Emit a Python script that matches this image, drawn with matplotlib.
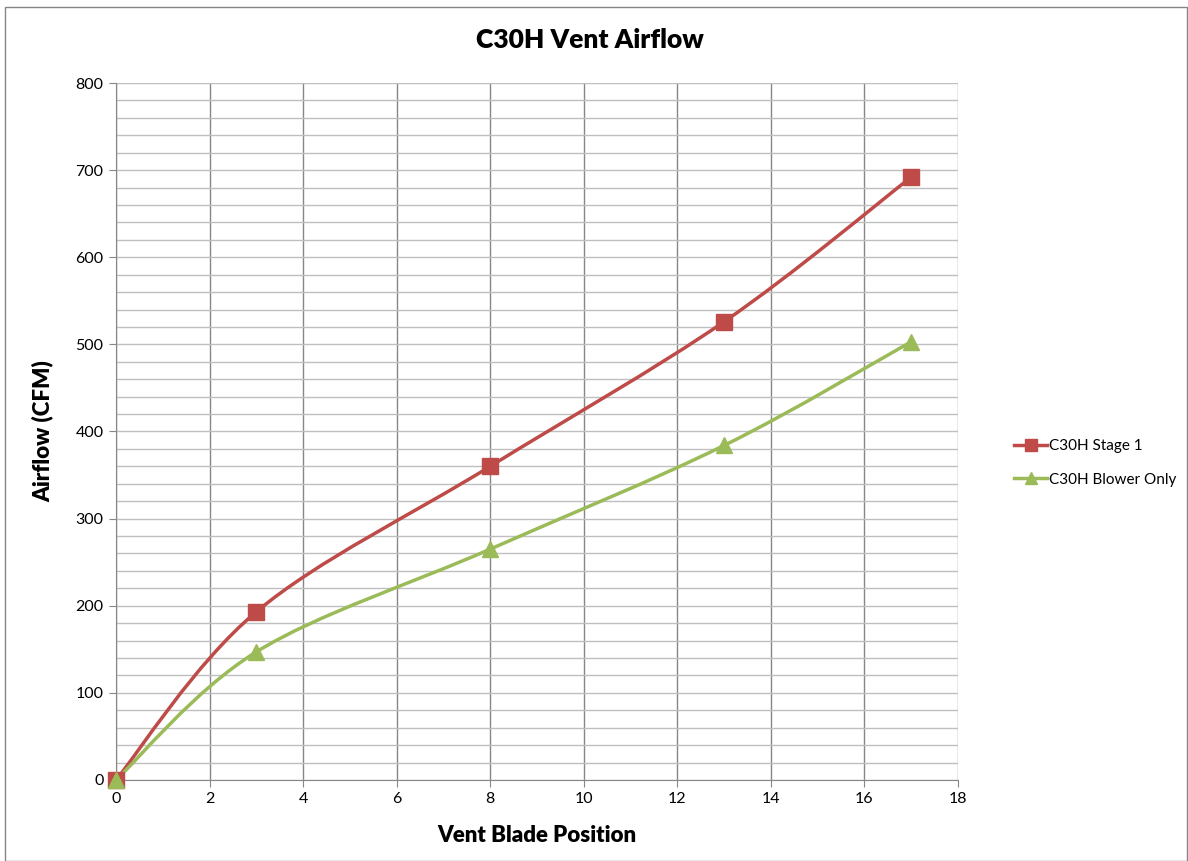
import matplotlib.pyplot as plt
from matplotlib.path import Path
from matplotlib.patches import PathPatch, Rectangle
import numpy as np

plt.rcParams['font.family'] = ['Lato', 'DejaVu Sans']

# data
blade_pos = [0, 3, 8, 13, 17]
stage1 = [0, 193, 360, 526, 692]
blower = [0, 147, 265, 384, 503]

red = '#BE4B48'
green = '#9BBB59'


def smooth_path(xs, ys):
    # Excel-style smoothed line: cubic bezier through the points
    pts = np.column_stack([xs, ys]).astype(float)
    n = len(pts)
    verts = [pts[0]]
    codes = [Path.MOVETO]
    for i in range(n - 1):
        p0 = pts[max(i - 1, 0)]
        p1 = pts[i]
        p2 = pts[i + 1]
        p3 = pts[min(i + 2, n - 1)]
        c1 = p1 + (p2 - p0) / 6.0
        c2 = p2 - (p3 - p1) / 6.0
        verts += [c1, c2, p2]
        codes += [Path.CURVE4] * 3
    return Path(verts, codes)


fig = plt.figure(figsize=(11.88, 8.61), dpi=100)
ax = fig.add_axes([0.0976, 0.0941, 0.7088, 0.8095])

# outer chart border
fig.patches.append(Rectangle((0.004, 0.0), 0.995, 0.992, transform=fig.transFigure,
                             fill=False, edgecolor='#868686', linewidth=1.0))

ax.set_xlim(0, 18)
ax.set_ylim(0, 800)
ax.set_xticks(np.arange(0, 19, 2))
ax.set_yticks(np.arange(0, 801, 100))
ax.set_yticks(np.arange(0, 801, 20), minor=True)
ax.tick_params(axis='y', which='minor', length=0)
ax.tick_params(which='major', length=5, color='#868686', labelsize=11.5, pad=4)

ax.grid(axis='x', which='major', color='#868686', linewidth=1.0)
ax.grid(axis='y', which='both', color='#BFBFBF', linewidth=1.0)
ax.set_axisbelow(True)
for s in ['top', 'right']:
    ax.spines[s].set_visible(False)
for s in ['left', 'bottom']:
    ax.spines[s].set_color('#868686')

for ys, col, mk, ms, lab in [(stage1, red, 's', 11, 'C30H Stage 1'),
                             (blower, green, '^', 12, 'C30H Blower Only')]:
    ax.add_patch(PathPatch(smooth_path(blade_pos, ys), fill=False, edgecolor=col,
                           linewidth=2.5, zorder=3, clip_on=False))
    ax.plot(blade_pos, ys, linestyle='none', marker=mk, markersize=ms, color=col,
            zorder=4, clip_on=False)
    ax.plot([], [], color=col, linewidth=2.5, marker=mk, markersize=9, label=lab)

# title is centred on the whole chart, not the plot area
fig.text(0.497, 0.953, 'C30H Vent Airflow', fontsize=19, fontweight='heavy',
         ha='center', va='center')
ax.set_xlabel('Vent Blade Position', fontsize=16, fontweight='heavy', labelpad=13)
ax.set_ylabel('Airflow (CFM)', fontsize=16, fontweight='heavy', labelpad=16)

ax.legend(loc='center left', bbox_to_anchor=(1.05, 0.455), frameon=False,
          fontsize=11, handlelength=2.2, handletextpad=0.1, labelspacing=1.3)

fig.savefig('out.png', dpi=100)
